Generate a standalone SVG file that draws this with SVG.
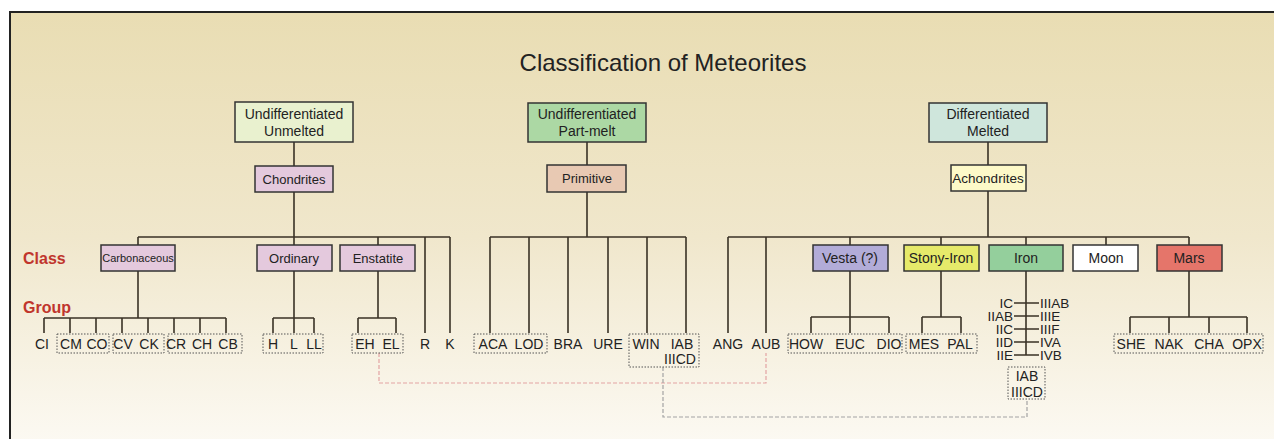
<svg xmlns="http://www.w3.org/2000/svg" width="1274" height="439" viewBox="0 0 1274 439">
<defs>
<linearGradient id="bg" x1="0" y1="0" x2="0" y2="1">
<stop offset="0" stop-color="#e9ddb3"/>
<stop offset="0.5" stop-color="#f0e7cc"/>
<stop offset="1" stop-color="#fdfbf6"/>
</linearGradient>
<style>
.t{font-family:"Liberation Sans",Arial,sans-serif;fill:#222;text-anchor:middle}
.g{font-size:14px}
.box{stroke:#333;stroke-width:1.5}
.ln{stroke:#3a3226;stroke-width:1.6;fill:none}
.dot{fill:none;stroke:#555;stroke-width:1;stroke-dasharray:1.5 1.5}
.lbl{font-family:"Liberation Sans",Arial,sans-serif;font-weight:bold;font-size:16px;fill:#c0352c}
</style>
</defs>
<rect x="0" y="0" width="1274" height="439" fill="#ffffff"/>
<rect x="10" y="12" width="1290" height="450" fill="url(#bg)" stroke="#222" stroke-width="2"/>
<text class="t" x="663" y="71" font-size="24">Classification of Meteorites</text>
<text class="lbl" x="23" y="264">Class</text>
<text class="lbl" x="23" y="313">Group</text>

<g id="connectors">
<path class="ln" d="M294 142V166M294 192V245M138 237H450M138 237V245M378 237V245M425 237V333M450 237V333"/>
<path class="ln" d="M587 142V165M587 192V237M490 237H686M490 237V333M529 237V333M568 237V333M608 237V333M647 237V333M686 237V333"/>
<path class="ln" d="M988 142V165M988 191V237M728 237H1189M728 237V333M766 237V333M850 237V245M941 237V245M1026 237V245M1106 237V245M1189 237V245"/>
<path class="ln" d="M138 271V318M44 318H226M44 318V333M70 318V333M96 318V333M122 318V333M148 318V333M174 318V333M200 318V333M226 318V333"/>
<path class="ln" d="M294 271V333M273 318H314M273 318V333M314 318V333"/>
<path class="ln" d="M378 271V318M358 318H396M358 318V333M396 318V333"/>
<path class="ln" d="M850 271V333M811 317H889M811 317V333M889 317V333"/>
<path class="ln" d="M941 271V317M922 317H961M922 317V333M961 317V333"/>
<path class="ln" d="M1189 271V317M1130 317H1247M1130 317V333M1169 317V333M1209 317V333M1247 317V333"/>
<path class="ln" d="M1026 271V355M1014 303H1039M1014 316H1039M1014 329H1039M1014 342H1039M1014 355H1039"/>
<path d="M379 353V383H766V353" fill="none" stroke="#e3a3a3" stroke-width="1.2" stroke-dasharray="4 2"/>
<path d="M663 367V417H1027V399" fill="none" stroke="#a3a3a3" stroke-width="1.2" stroke-dasharray="4 2"/>
</g>

<g id="unmelted"><rect class="box" x="235" y="102" width="118" height="40" fill="#e9f1cf"/><text class="t" x="294" y="119" font-size="14">Undifferentiated</text><text class="t" x="294" y="136" font-size="14">Unmelted</text></g>
<g id="partmelt"><rect class="box" x="528" y="103" width="118" height="39" fill="#acd8a4"/><text class="t" x="587" y="119" font-size="14">Undifferentiated</text><text class="t" x="587" y="136" font-size="14">Part-melt</text></g>
<g id="melted"><rect class="box" x="929" y="103" width="118" height="39" fill="#cfe6dc"/><text class="t" x="988" y="119" font-size="14">Differentiated</text><text class="t" x="988" y="136" font-size="14">Melted</text></g>

<g id="chondrites"><rect class="box" x="255" y="166" width="78" height="26" fill="#e4c9dd"/><text class="t" x="294" y="184" font-size="13">Chondrites</text></g>
<g id="primitive"><rect class="box" x="547" y="165" width="79" height="27" fill="#e8c9b3"/><text class="t" x="587" y="183" font-size="13">Primitive</text></g>
<g id="achondrites"><rect class="box" x="951" y="165" width="75" height="26" fill="#fdf9c8"/><text class="t" x="988" y="183" font-size="13.5">Achondrites</text></g>

<g id="carbonaceous"><rect class="box" x="101" y="245" width="74" height="26" fill="#e4c9dd"/><text class="t" x="138" y="262" font-size="11">Carbonaceous</text></g>
<g id="ordinary"><rect class="box" x="257" y="245" width="75" height="26" fill="#e4c9dd"/><text class="t" x="294" y="263" font-size="13">Ordinary</text></g>
<g id="enstatite"><rect class="box" x="340" y="245" width="75" height="26" fill="#e4c9dd"/><text class="t" x="378" y="263" font-size="13">Enstatite</text></g>
<g id="vesta"><rect class="box" x="813" y="245" width="75" height="26" fill="#b2acd8"/><text class="t" x="850" y="263" font-size="14">Vesta (?)</text></g>
<g id="stonyiron"><rect class="box" x="904" y="245" width="75" height="26" fill="#e6ea6a"/><text class="t" x="941" y="263" font-size="14">Stony-Iron</text></g>
<g id="iron"><rect class="box" x="989" y="245" width="74" height="26" fill="#94cf9c"/><text class="t" x="1026" y="263" font-size="14">Iron</text></g>
<g id="moon"><rect class="box" x="1073" y="245" width="65" height="26" fill="#ffffff"/><text class="t" x="1106" y="263" font-size="14">Moon</text></g>
<g id="mars"><rect class="box" x="1157" y="245" width="65" height="26" fill="#e5756a"/><text class="t" x="1189" y="263" font-size="14">Mars</text></g>

<g id="carb-groups">
<rect class="dot" x="57" y="334" width="52" height="19"/><rect class="dot" x="113" y="334" width="51" height="19"/><rect class="dot" x="168" y="334" width="74" height="19"/>
<text class="t g" x="42" y="349">CI</text><text class="t g" x="71" y="349">CM</text><text class="t g" x="97" y="349">CO</text><text class="t g" x="123" y="349">CV</text><text class="t g" x="149" y="349">CK</text><text class="t g" x="176" y="349">CR</text><text class="t g" x="202" y="349">CH</text><text class="t g" x="228" y="349">CB</text>
</g>
<g id="ord-groups"><rect class="dot" x="263" y="334" width="60" height="19"/><text class="t g" x="273" y="349">H</text><text class="t g" x="294" y="349">L</text><text class="t g" x="314" y="349">LL</text></g>
<g id="ens-groups"><rect class="dot" x="352" y="334" width="51" height="19"/><text class="t g" x="365" y="349">EH</text><text class="t g" x="391" y="349">EL</text></g>
<g id="rk"><text class="t g" x="425" y="349">R</text><text class="t g" x="450" y="349">K</text></g>
<g id="prim-groups"><rect class="dot" x="474" y="334" width="73" height="19"/><text class="t g" x="493" y="349">ACA</text><text class="t g" x="529" y="349">LOD</text><text class="t g" x="568" y="349">BRA</text><text class="t g" x="608" y="349">URE</text>
<rect class="dot" x="629" y="334" width="70" height="33"/><text class="t g" x="646" y="349">WIN</text><text class="t g" x="682" y="349">IAB</text><text class="t g" x="680" y="364">IIICD</text></g>
<g id="ang-aub"><text class="t g" x="728" y="349">ANG</text><text class="t g" x="766" y="349">AUB</text></g>
<g id="vesta-groups"><rect class="dot" x="788" y="334" width="114" height="19"/><text class="t g" x="806" y="349">HOW</text><text class="t g" x="850" y="349">EUC</text><text class="t g" x="889" y="349">DIO</text></g>
<g id="si-groups"><rect class="dot" x="906" y="334" width="71" height="19"/><text class="t g" x="924" y="349">MES</text><text class="t g" x="960" y="349">PAL</text></g>
<g id="iron-groups" font-family="Liberation Sans, Arial, sans-serif" font-size="13.5" fill="#222">
<text x="1013" y="308" text-anchor="end">IC</text><text x="1013" y="321" text-anchor="end">IIAB</text><text x="1013" y="334" text-anchor="end">IIC</text><text x="1013" y="347" text-anchor="end">IID</text><text x="1013" y="360" text-anchor="end">IIE</text>
<text x="1040" y="308">IIIAB</text><text x="1040" y="321">IIIE</text><text x="1040" y="334">IIIF</text><text x="1040" y="347">IVA</text><text x="1040" y="360">IVB</text>
</g>
<g id="iron-extra" font-family="Liberation Sans, Arial, sans-serif" font-size="14" fill="#222">
<rect class="dot" x="1008" y="367" width="37" height="32"/><text x="1027" y="381" text-anchor="middle">IAB</text><text x="1027" y="397" text-anchor="middle">IIICD</text>
</g>
<g id="mars-groups"><rect class="dot" x="1114" y="334" width="149" height="19"/><text class="t g" x="1131" y="349">SHE</text><text class="t g" x="1169" y="349">NAK</text><text class="t g" x="1209" y="349">CHA</text><text class="t g" x="1247" y="349">OPX</text></g>
</svg>
